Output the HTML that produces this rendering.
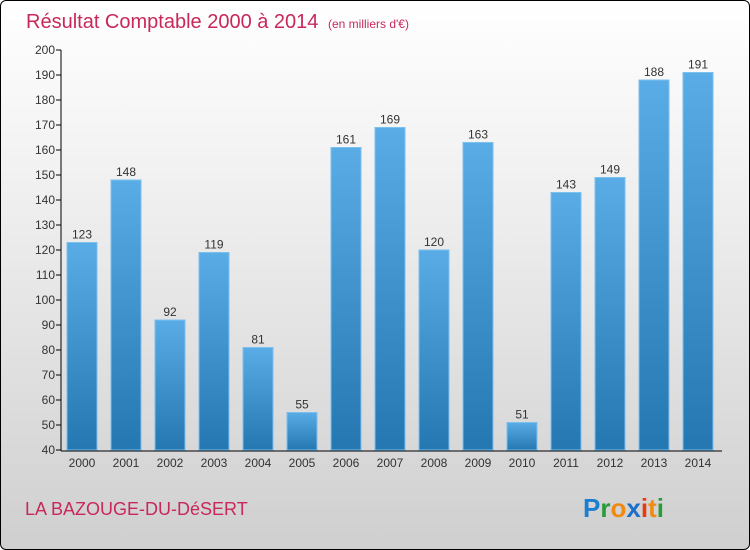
<!DOCTYPE html>
<html><head><meta charset="utf-8"><style>
body{margin:0}
#c{width:748px;height:548px;border:1px solid #000;border-radius:6px;background:linear-gradient(#fff,#f2f2f2 30%,#cfcfcf);position:relative;overflow:hidden;font-family:"Liberation Sans",sans-serif}
</style></head><body>
<div id="c">
<svg width="748" height="548" id="s">
<defs><linearGradient id="g" x1="0" y1="0" x2="0" y2="1"><stop offset="0" stop-color="#5aace6"/><stop offset="1" stop-color="#2577b2"/></linearGradient></defs>
<text x="25" y="27" font-size="20" fill="#c8285a">Résultat Comptable 2000 à 2014 <tspan font-size="12" dx="4">(en milliers d'€)</tspan></text>
<text x="24" y="514" font-size="18" fill="#c8285a">LA BAZOUGE-DU-DéSERT</text>
<text x="582" y="516" font-size="26" font-weight="bold"><tspan fill="#1a7fd0">P</tspan><tspan fill="#2a9a3a">r</tspan><tspan fill="#f08a10">o</tspan><tspan fill="#1a6fc8">x</tspan><tspan fill="#e83a10">i</tspan><tspan fill="#f08a10">t</tspan><tspan fill="#2a9a3a">i</tspan></text>
<g id="plot"></g>
</svg></div>
<script>
const years=["2000","2001","2002","2003","2004","2005","2006","2007","2008","2009","2010","2011","2012","2013","2014"];
const values=[123,148,92,119,81,55,161,169,120,163,51,143,149,188,191];
const yTicks=[40,50,60,70,80,90,100,110,120,130,140,150,160,170,180,190,200];
const y=v=>449-(v-40)*2.5;
const x=i=>81+i*44;
const ns="http://www.w3.org/2000/svg",p=document.getElementById('plot');
function mk(t,a){const e=document.createElementNS(ns,t);for(const k in a)e.setAttribute(k,a[k]);p.appendChild(e);return e;}
values.forEach((v,i)=>{
 const r=mk('rect',{x:x(i)-15,y:y(v),width:30,height:449-y(v),fill:'url(#g)',stroke:'#7cc0ee','stroke-width':1});
 
 
 const t=mk('text',{x:x(i),y:y(v)-4,'text-anchor':'middle','font-size':12,fill:'#333'});t.textContent=v;
 
 
 const l=mk('text',{x:x(i),y:466,'text-anchor':'middle','font-size':12,fill:'#333'});l.textContent=years[i];
 
 
});
yTicks.forEach(v=>{
 const tk=mk('line',{x1:55,x2:60,y1:y(v),y2:y(v),stroke:'#000'});
 
 
 const t=mk('text',{x:54,y:y(v)+4,'text-anchor':'end','font-size':12,fill:'#333'});t.textContent=v;
 
 
});
const ya=mk('line',{x1:60,x2:60,y1:y(200),y2:450,stroke:'#000'});


const xa=mk('line',{x1:60,x2:721,y1:450,y2:450,stroke:'#000'});


</script>
</body></html>
